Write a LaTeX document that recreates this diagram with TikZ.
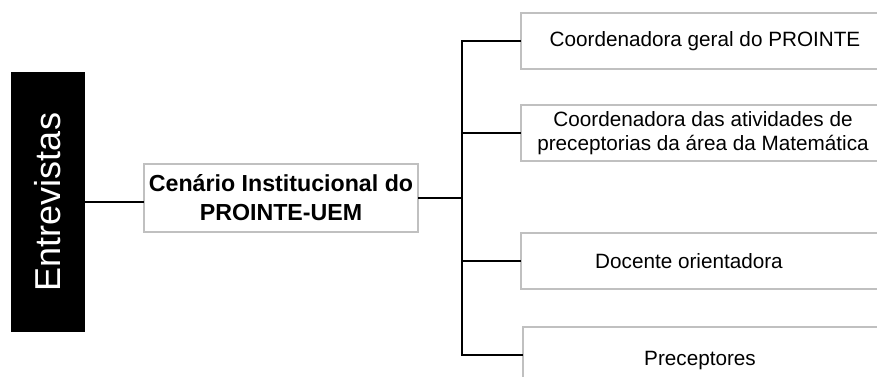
\documentclass[tikz,border=0pt]{standalone}
\usepackage{fontspec}
\setmainfont{Liberation Sans}
\definecolor{borda}{HTML}{C0C0C0}

\begin{document}
\begin{tikzpicture}[x=1pt,y=-1pt,
  caixa/.style={draw=borda,line width=2pt,anchor=west,minimum height=56pt,
    inner sep=2pt,align=center,font=\fontsize{20.7}{24}\selectfont},
  liga/.style={line width=2.2pt,line cap=rect}]
\clip (0,0) rectangle (877,376);

\node[fill=black,text=white,minimum width=74pt,minimum height=260pt,
  font=\fontsize{36}{40}\selectfont] (ent) at (48,202) {\rotatebox{90}{Entrevistas}};

\node[draw=borda,line width=2pt,minimum width=274pt,minimum height=68pt,align=center,
  font=\fontsize{23.2}{29}\selectfont\bfseries] (cen) at (281,198)
  {Cenário Institucional do\\PROINTE-UEM};

\node[caixa,minimum width=368pt] (b1) at (520,41) {Coordenadora geral do PROINTE};
\node[caixa,minimum width=364pt] (b2) at (520,133)
  {Coordenadora das atividades de\\preceptorias da área da Matemática};
\node[caixa,minimum width=360pt] (b3) at (520,261) {Docente orientadora\hspace*{24pt}};
\node[caixa,minimum width=370pt,text height=26pt] (b4) at (522,355) {Preceptores\hspace*{16pt}};

% ligacoes
\coordinate (bus) at (462,198);
\draw[liga] (ent.east) -- (ent.east -| cen.west);
\draw[liga] (cen.east) -- (bus);
\draw[liga] (bus |- b1.west) -- (bus |- b4.west);
\foreach \b in {b1,b2,b3,b4}
  \draw[liga] (bus |- \b.west) -- (\b.west);
\end{tikzpicture}
\end{document}
